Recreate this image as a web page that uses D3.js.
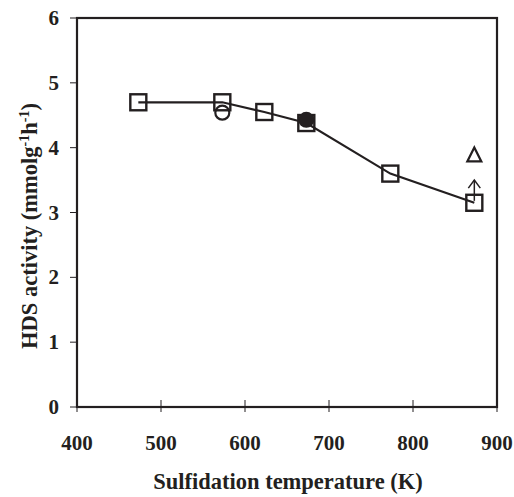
<!DOCTYPE html>
<html>
<head>
<meta charset="utf-8">
<script src="https://cdn.jsdelivr.net/npm/d3@7"></script>
<style>
  body { margin: 0; background: #fff; }
  text { font-family: "Liberation Serif", "Times New Roman", serif; font-weight: bold; fill: #231f20; }
</style>
</head>
<body>
<svg id="chart" width="514" height="497"></svg>
<script>
// squares, connected by line
var tempK = [473, 573, 623, 673, 773, 873];
var activity = [4.70, 4.70, 4.55, 4.38, 3.60, 3.15];
// other markers
var openCircle = [{ x: 573, y: 4.54 }];
var filledCircle = [{ x: 673, y: 4.43 }];
var triangle = [{ x: 873, y: 3.88 }];
var arrow = [{ x: 873, from: 3.18, to: 3.50 }];
var xTicks = [400, 500, 600, 700, 800, 900];
var yTicks = [0, 1, 2, 3, 4, 5, 6];

var svg = d3.select("#chart");
var plotL = 77, plotR = 497, plotT = 18, plotB = 407;
var ink = "#231f20";

var x = d3.scaleLinear().domain([400, 900]).range([plotL, plotR]);
var y = d3.scaleLinear().domain([0, 6]).range([plotB, plotT]);

// frame
svg.append("rect")
  .attr("x", plotL).attr("y", plotT)
  .attr("width", plotR - plotL).attr("height", plotB - plotT)
  .attr("fill", "none").attr("stroke", ink).attr("stroke-width", 2.2);

// y axis ticks + labels
svg.selectAll(".ytick").data(yTicks).enter().append("line")
  .attr("x1", plotL - 7).attr("x2", plotL)
  .attr("y1", function(d) { return y(d); }).attr("y2", function(d) { return y(d); })
  .attr("stroke", ink).attr("stroke-width", 1);
svg.selectAll(".ylab").data(yTicks).enter().append("text")
  .attr("x", 59).attr("y", function(d) { return y(d) + 7; })
  .attr("text-anchor", "end").attr("font-size", 21)
  .text(function(d) { return d; });

// x axis ticks + labels
svg.selectAll(".xtick").data(xTicks).enter().append("line")
  .attr("x1", function(d) { return x(d); }).attr("x2", function(d) { return x(d); })
  .attr("y1", plotB - 7).attr("y2", plotB + 5)
  .attr("stroke", ink).attr("stroke-width", 1);
svg.selectAll(".xlab").data(xTicks).enter().append("text")
  .attr("x", function(d) { return x(d); }).attr("y", 450)
  .attr("text-anchor", "middle").attr("font-size", 21)
  .text(function(d) { return d; });

// axis titles
svg.append("text")
  .attr("x", (plotL + plotR) / 2 + 1).attr("y", 489)
  .attr("text-anchor", "middle").attr("font-size", 22.5)
  .text("Sulfidation temperature (K)");

var yt = svg.append("text")
  .attr("transform", "translate(37,226) rotate(-90)")
  .attr("text-anchor", "middle").attr("font-size", 22.5);
yt.append("tspan").text("HDS activity (mmolg");
yt.append("tspan").attr("dy", -8).attr("font-size", 14).text("-1");
yt.append("tspan").attr("dy", 8).text("h");
yt.append("tspan").attr("dy", -8).attr("font-size", 14).text("-1");
yt.append("tspan").attr("dy", 8).text(")");

// line through squares
var pts = tempK.map(function(t, i) { return [t, activity[i]]; });
svg.append("path")
  .attr("d", d3.line().x(function(d) { return x(d[0]); }).y(function(d) { return y(d[1]); })(pts))
  .attr("fill", "none").attr("stroke", ink).attr("stroke-width", 2.2);

// open circle
svg.selectAll(".oc").data(openCircle).enter().append("circle")
  .attr("cx", function(d) { return x(d.x); }).attr("cy", function(d) { return y(d.y); })
  .attr("r", 7).attr("fill", "none").attr("stroke", ink).attr("stroke-width", 2.2);

// squares
var s = 16;
svg.selectAll(".sq").data(pts).enter().append("rect")
  .attr("x", function(d) { return x(d[0]) - s / 2; })
  .attr("y", function(d) { return y(d[1]) - s / 2; })
  .attr("width", s).attr("height", s)
  .attr("fill", "none").attr("stroke", ink).attr("stroke-width", 2.4);

// filled circle
svg.selectAll(".fc").data(filledCircle).enter().append("circle")
  .attr("cx", function(d) { return x(d.x); }).attr("cy", function(d) { return y(d.y); })
  .attr("r", 8).attr("fill", ink);

// triangle
svg.selectAll(".tri").data(triangle).enter().append("path")
  .attr("d", function(d) {
    var cx = x(d.x), cy = y(d.y);
    return "M" + cx + "," + (cy - 8) + "L" + (cx + 7) + "," + (cy + 6) + "L" + (cx - 7) + "," + (cy + 6) + "Z";
  })
  .attr("fill", "none").attr("stroke", ink).attr("stroke-width", 2.2);

// arrow
arrow.forEach(function(a) {
  var ax = x(a.x), y0 = y(a.from), y1 = y(a.to);
  svg.append("line").attr("x1", ax).attr("x2", ax).attr("y1", y0).attr("y2", y1)
    .attr("stroke", ink).attr("stroke-width", 1.5);
  svg.append("path")
    .attr("d", "M" + (ax - 6) + "," + (y1 + 8) + "L" + ax + "," + y1 + "L" + (ax + 6) + "," + (y1 + 8))
    .attr("fill", "none").attr("stroke", ink).attr("stroke-width", 1.5);
});
</script>
</body>
</html>
